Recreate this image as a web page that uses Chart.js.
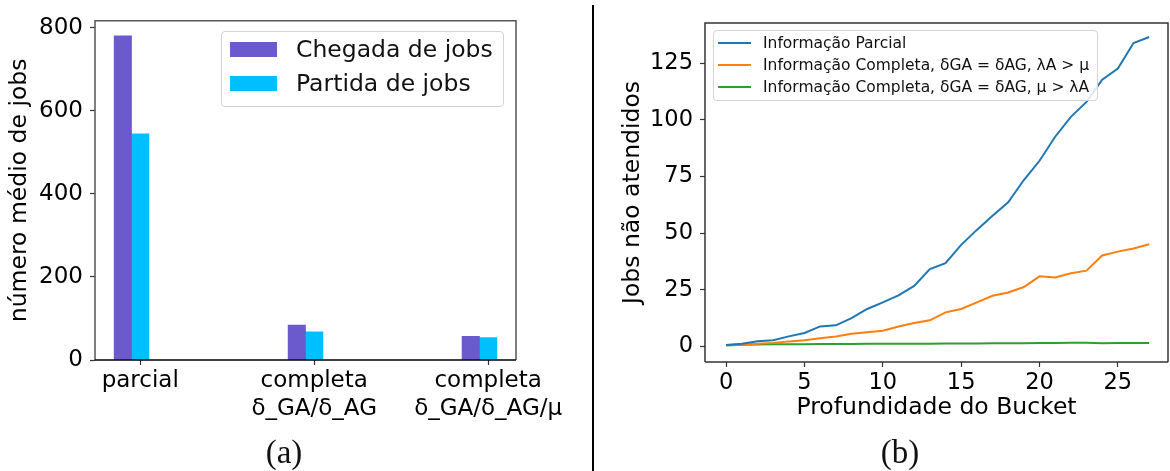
<!DOCTYPE html>
<html lang="pt">
<head>
<meta charset="utf-8">
<title>Jobs - chegada/partida e jobs não atendidos</title>
<script src="https://cdn.jsdelivr.net/npm/chart.js@4.4.1/dist/chart.umd.min.js"></script>
<style>
  html, body { margin: 0; padding: 0; background: #fff; }
  body { width: 1170px; height: 471px; position: relative; overflow: hidden; font-family: "DejaVu Sans", sans-serif; }
  canvas { position: absolute; top: 0; }
  #barChart { left: 0; }
  #lineChart { left: 600px; }
  .divider { position: absolute; left: 592px; top: 5px; width: 2px; height: 466px; background: #000; }
  .caption { position: absolute; top: 432px; font-family: "Liberation Serif", serif; font-size: 33px; line-height: 40px; transform: translateX(-50%); color: #111; }
  .legend { position: absolute; border: 1px solid #d4d4d4; border-radius: 4px; background: rgba(255,255,255,0.85); box-sizing: border-box; }
  .legend .sw { position: absolute; }
  .legend span.txt { position: absolute; white-space: nowrap; color: #111; }
</style>
</head>
<body>
<canvas id="barChart" width="594" height="440"></canvas>
<canvas id="lineChart" width="570" height="440"></canvas>
<div class="divider"></div>
<div id="legendA" class="legend" style="left:221px; top:31px; width:283px; height:76px;"></div>
<div id="legendB" class="legend" style="left:713px; top:30px; width:385px; height:71px;"></div>
<div class="caption" style="left:284px;">(a)</div>
<div class="caption" style="left:900px;">(b)</div>

<script>
// ===== DATA =====

// (a) número médio de jobs
const barCategories = ['parcial', ['completa', 'δ_GA/δ_AG'], ['completa', 'δ_GA/δ_AG/μ']];
const barPositions = [0, 1, 2];
const chegadaJobs = [781, 84, 57];
const partidaJobs = [545, 68, 54];
const barSeriesNames = ['Chegada de jobs', 'Partida de jobs'];
const barYTicks = [0, 200, 400, 600, 800];

// (b) jobs não atendidos x profundidade do bucket
const depth = [0, 1, 2, 3, 4, 5, 6, 7, 8, 9, 10, 11, 12, 13, 14, 15, 16, 17, 18, 19, 20, 21, 22, 23, 24, 25, 26, 27];
const infoParcial = [0.7, 1.3, 2.4, 2.8, 4.5, 6.0, 8.9, 9.4, 12.6, 16.6, 19.5, 22.6, 26.8, 34.2, 36.8, 44.9, 51.5, 57.7, 63.7, 73.5, 82.0, 92.6, 101.4, 108.0, 117.8, 122.7, 134.0, 136.6];
const infoCompletaLambda = [0.7, 0.9, 1.3, 1.6, 2.3, 2.8, 3.7, 4.5, 5.7, 6.3, 7.0, 8.9, 10.4, 11.6, 15.1, 16.6, 19.5, 22.4, 23.9, 26.3, 31.0, 30.5, 32.4, 33.5, 40.2, 41.9, 43.3, 45.2];
const infoCompletaMu = [0.5, 0.8, 0.9, 1.0, 1.0, 1.0, 1.1, 1.1, 1.1, 1.2, 1.2, 1.2, 1.3, 1.3, 1.4, 1.4, 1.4, 1.5, 1.5, 1.5, 1.6, 1.6, 1.7, 1.7, 1.5, 1.6, 1.6, 1.6];
const lineSeriesNames = [
  'Informação Parcial',
  'Informação Completa, δGA = δAG, λA > μ',
  'Informação Completa, δGA = δAG, μ > λA'
];
const lineXTicks = [0, 5, 10, 15, 20, 25];
const lineYTicks = [0, 25, 50, 75, 100, 125];

// ===== STYLE =====
const BAR_COLORS = ['#6a5acd', '#00bfff'];
const LINE_COLORS = ['#1f77b4', '#ff7f0e', '#2ca02c'];
const BAR_OFFSETS = [-0.1, 0];   // matplotlib-style side by side bars, tick under the 2nd bar

Chart.defaults.font.family = '"DejaVu Sans", sans-serif';
Chart.defaults.color = '#000';
Chart.defaults.animation = false;

// draws the 4 spines around the plot area
const framePlugin = {
  id: 'frame',
  afterDatasetsDraw(chart, args, opts) {
    const { ctx, chartArea: a } = chart;
    ctx.save();
    ctx.lineWidth = 1.5;
    ctx.strokeStyle = opts.color || '#333';
    ctx.beginPath();
    ctx.moveTo(a.left, a.bottom);
    ctx.lineTo(a.left, a.top);
    ctx.lineTo(a.right, a.top);
    ctx.lineTo(a.right, a.bottom);
    ctx.stroke();
    ctx.strokeStyle = opts.bottomColor || opts.color || '#333';
    ctx.beginPath();
    ctx.moveTo(a.left, a.bottom);
    ctx.lineTo(a.right, a.bottom);
    ctx.stroke();
    ctx.restore();
  }
};

const tickGrid = (color) => ({
  display: true,
  drawOnChartArea: false,
  drawTicks: true,
  tickLength: 5,
  tickWidth: 1.2,
  tickColor: color,
  offset: false
});

document.addEventListener('DOMContentLoaded', () => {
  renderBarChart();
  renderLineChart();
  renderLegends();
});

function renderBarChart() {
  // ==========================================
  // (a) BAR CHART
  // ==========================================
  const series = [chegadaJobs, partidaJobs];
  new Chart(document.getElementById('barChart'), {
    type: 'bar',
    data: {
      datasets: series.map((vals, s) => ({
        label: barSeriesNames[s],
        data: vals.map((v, i) => ({ x: barPositions[i] + BAR_OFFSETS[s], y: v })),
        backgroundColor: BAR_COLORS[s],
        borderWidth: 0,
        grouped: false,
        categoryPercentage: 1,
        barPercentage: 1
      }))
    },
    options: {
      responsive: false,
      devicePixelRatio: 1,
      layout: { padding: { top: 19, right: 78, left: 0, bottom: 0 } },
      plugins: {
        legend: { display: false },
        tooltip: { enabled: false },
        frame: { color: '#555', bottomColor: '#000' }
      },
      scales: {
        x: {
          type: 'linear',
          min: -0.26,
          max: 2.16,
          offset: false,
          grid: tickGrid('#333'),
          border: { display: false },
          afterBuildTicks: s => { s.ticks = barPositions.map(v => ({ value: v })); },
          afterFit: s => { s.height = 80; },
          ticks: {
            font: { size: 23, lineHeight: 1.22 },
            padding: 2,
            maxRotation: 0,
            callback: (v, i) => barCategories[i]
          }
        },
        y: {
          min: 0,
          max: 817,
          grid: tickGrid('#333'),
          border: { display: false },
          afterBuildTicks: s => { s.ticks = barYTicks.map(v => ({ value: v })); },
          afterFit: s => { s.width = 95; },
          ticks: { font: { size: 23 }, padding: 7 },
          title: {
            display: true,
            text: 'número médio de jobs',
            font: { size: 23.5 },
            padding: { top: 6, bottom: 0 }
          }
        }
      }
    },
    plugins: [framePlugin]
  });
}

function renderLineChart() {
  // ==========================================
  // (b) LINE CHART
  // ==========================================
  const series = [infoParcial, infoCompletaLambda, infoCompletaMu];
  new Chart(document.getElementById('lineChart'), {
    type: 'line',
    data: {
      datasets: series.map((vals, s) => ({
        label: lineSeriesNames[s],
        data: vals.map((v, i) => ({ x: depth[i], y: v })),
        borderColor: LINE_COLORS[s],
        backgroundColor: LINE_COLORS[s],
        borderWidth: 2,
        pointRadius: 0,
        tension: 0,
        fill: false
      }))
    },
    options: {
      responsive: false,
      devicePixelRatio: 1,
      layout: { padding: { top: 23, right: 2, left: 0, bottom: 0 } },
      plugins: {
        legend: { display: false },
        tooltip: { enabled: false },
        frame: { color: '#333', bottomColor: '#333' }
      },
      scales: {
        x: {
          type: 'linear',
          min: -1.35,
          max: 28.2,
          grid: tickGrid('#333'),
          border: { display: false },
          afterBuildTicks: s => { s.ticks = lineXTicks.map(v => ({ value: v })); },
          afterFit: s => { s.height = 78; },
          ticks: { font: { size: 22.5 }, padding: 3, maxRotation: 0 },
          title: {
            display: true,
            text: 'Profundidade do Bucket',
            font: { size: 23.5 },
            padding: { top: 0, bottom: 18 }
          }
        },
        y: {
          type: 'linear',
          min: -6.8,
          max: 142.8,
          grid: tickGrid('#333'),
          border: { display: false },
          afterBuildTicks: s => { s.ticks = lineYTicks.map(v => ({ value: v })); },
          afterFit: s => { s.width = 105; },
          ticks: { font: { size: 22.5 }, padding: 7 },
          title: {
            display: true,
            text: 'Jobs não atendidos',
            font: { size: 23.5 },
            padding: { top: 19, bottom: 0 }
          }
        }
      }
    },
    plugins: [framePlugin]
  });
}

function renderLegends() {
  // ==========================================
  // LEGENDS (boxed, inside the plot areas)
  // ==========================================
  const legA = document.getElementById('legendA');
  barSeriesNames.forEach((name, i) => {
    const top = 18 + i * 34;   // row centre inside box
    legA.insertAdjacentHTML('beforeend',
      `<div class="sw" style="left:8px; top:${top - 8}px; width:47px; height:15px; background:${BAR_COLORS[i]};"></div>` +
      `<span class="txt" style="left:74px; top:${top - 15}px; font-size:23.5px; line-height:28px;">${name}</span>`);
  });

  const legB = document.getElementById('legendB');
  lineSeriesNames.forEach((name, i) => {
    const top = 12 + i * 22;
    legB.insertAdjacentHTML('beforeend',
      `<div class="sw" style="left:4px; top:${top - 1}px; width:33px; height:2px; background:${LINE_COLORS[i]};"></div>` +
      `<span class="txt" style="left:49px; top:${top - 10}px; font-size:15.5px; line-height:20px;">${name}</span>`);
  });
}
</script>
</body>
</html>
